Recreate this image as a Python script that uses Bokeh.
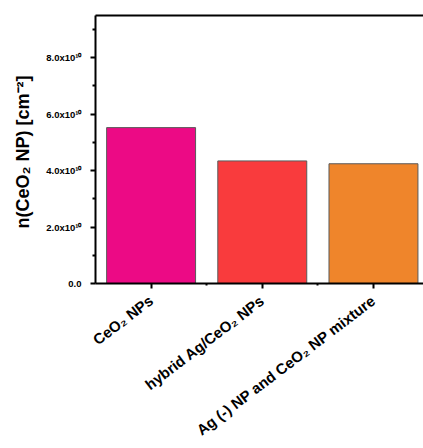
from bokeh.plotting import figure
from bokeh.models import Range1d, FixedTicker, LinearAxis, ColumnDataSource
from bokeh.embed import file_html
from bokeh.resources import INLINE

# Surface density of CeO2 nanoparticles for each sample
samples = ["CeO₂ NPs", "hybrid Ag/CeO₂ NPs", "Ag (-) NP and CeO₂ NP mixture"]
density = [5.52e10, 4.34e10, 4.24e10]
colors = ["#EC0A85", "#F93B3D", "#EF852B"]

y_ticks = [0.0, 2.0e10, 4.0e10, 6.0e10, 8.0e10]
y_tick_labels = ["0.0", "2.0x10¹⁰", "4.0x10¹⁰", "6.0x10¹⁰", "8.0x10¹⁰"]
y_minor = [1.0e10, 3.0e10, 5.0e10, 7.0e10, 9.0e10]

positions = list(range(1, len(samples) + 1))
source = ColumnDataSource(dict(x=positions, top=density, color=colors))

FONT = "Liberation Sans"

p = figure(
    width=423, height=448,
    output_backend="svg", toolbar_location=None,
    x_range=Range1d(0.5, 3.45), y_range=Range1d(0, 9.49e10),
    min_border_left=95, min_border_top=15, min_border_bottom=165, min_border_right=0,
)
p.xgrid.visible = False
p.ygrid.visible = False
p.outline_line_color = None
p.background_fill_color = "white"
p.border_fill_color = "white"

p.vbar(x="x", top="top", width=0.8, bottom=0, source=source,
       fill_color="color", line_color="#5a5a5a", line_width=1)

# x axis: one tick per sample, minor ticks between bars
xa = p.xaxis[0]
xa.ticker = FixedTicker(ticks=positions, minor_ticks=[1.5, 2.5])
xa.major_label_overrides = {float(i): s for i, s in zip(positions, samples)}
xa.major_label_orientation = 0.65
xa.major_label_text_font = FONT
xa.major_label_text_font_style = "bold"
xa.major_label_text_font_size = "15px"
xa.major_label_text_color = "black"
xa.major_label_standoff = 10
xa.axis_line_width = 2
xa.major_tick_line_width = 2
xa.major_tick_out = 5
xa.major_tick_in = 0
xa.minor_tick_line_width = 2
xa.minor_tick_out = 2
xa.minor_tick_in = 0

# y axis
ya = p.yaxis[0]
ya.ticker = FixedTicker(ticks=y_ticks, minor_ticks=y_minor)
ya.major_label_overrides = {float(v): s for v, s in zip(y_ticks, y_tick_labels)}
ya.major_label_text_font = FONT
ya.major_label_text_font_style = "bold"
ya.major_label_text_font_size = "9.5px"
ya.major_label_text_color = "black"
ya.major_label_standoff = 9
ya.axis_line_width = 2
ya.major_tick_line_width = 2
ya.major_tick_out = 5
ya.major_tick_in = 0
ya.minor_tick_line_width = 2
ya.minor_tick_out = 3
ya.minor_tick_in = 0
ya.axis_label = "n(CeO₂ NP)  [cm⁻²]"
ya.axis_label_text_font = FONT
ya.axis_label_text_font_style = "bold"
ya.axis_label_text_font_size = "18px"
ya.axis_label_text_color = "black"
ya.axis_label_standoff = 10

# top frame line
top = LinearAxis(ticker=FixedTicker(ticks=[]), axis_line_width=2,
                 major_label_text_font_size="0px", minor_tick_line_color=None,
                 major_tick_line_color=None)
p.add_layout(top, "above")

open("out.html", "w").write(file_html(p, INLINE))
